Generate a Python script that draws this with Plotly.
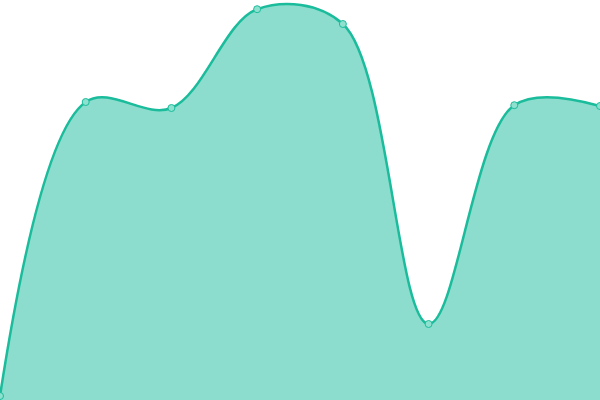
import plotly.graph_objs as go

# Data points (y scale 0-100)
x_vals = [0, 1, 2, 3, 4, 5, 6, 7]
y_vals = [1, 74.5, 73, 97.7, 94, 19, 73.7, 73.5]

line_color = "#1abc9c"
fill_color = "rgba(26, 188, 156, 0.5)"


def main():
    fig = go.Figure()

    fig.add_trace(
        go.Scatter(
            x=x_vals,
            y=y_vals,
            mode="lines+markers",
            fill="tozeroy",
            fillcolor=fill_color,
            line=dict(color=line_color, width=2.5, shape="spline", smoothing=1),
            marker=dict(
                size=7,
                color="#8ee0cf",
                line=dict(color=line_color, width=1),
            ),
            showlegend=False,
            hoverinfo="skip",
        )
    )

    fig.update_layout(
        width=600,
        height=400,
        margin=dict(l=0, r=0, t=0, b=0),
        paper_bgcolor="white",
        plot_bgcolor="white",
        xaxis=dict(visible=False, range=[0, 7], fixedrange=True),
        yaxis=dict(visible=False, range=[0, 100], fixedrange=True),
    )

    # Save to html file (drop the default body margin so the chart fills the window)
    fig.write_html(
        "out.html",
        config={"displayModeBar": False},
        post_script="document.body.style.margin = '0';",
    )


if __name__ == "__main__":
    main()
